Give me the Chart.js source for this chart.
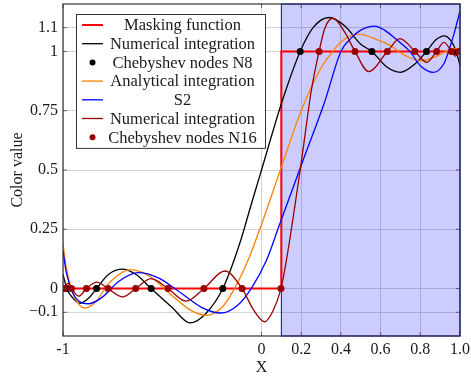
<!DOCTYPE html>
<html>
<head>
<meta charset="utf-8">
<script src="https://cdn.jsdelivr.net/npm/chart.js@4.4.1/dist/chart.umd.min.js"></script>
<style>
  html, body { margin: 0; padding: 0; background: #fff; }
</style>
</head>
<body>
<canvas id="myChart" width="471" height="378"></canvas>
<script>
// axis ticks
var xTicks = [-1, 0, 0.2, 0.4, 0.6, 0.8, 1];
var xTickLabels = ['-1', '0', '0.2', '0.4', '0.6', '0.8', '1.0'];
var yTicks = [-0.1, 0, 0.25, 0.5, 0.75, 1, 1.1];
var yTickLabels = ['\u22120.1', '0', '0.25', '0.5', '0.75', '1', '1.1'];

// step mask and the region it covers
var maskX = [-1, 0.1, 0.1, 1];
var maskY = [0, 0, 1, 1];
var maskRegion = [0.1, 1];

// numerical integration, 8 nodes
var n8X = [-1, -0.981, -0.95, -0.915, -0.87, -0.831, -0.77, -0.7, -0.63, -0.556, -0.45, -0.36, -0.28, -0.195, -0.111, -0.05, 0, 0.104, 0.195, 0.26, 0.34, 0.42, 0.5, 0.556, 0.63, 0.7, 0.77, 0.831, 0.88, 0.92, 0.955, 0.981, 1];
var n8Y = [0.06, 0, -0.04, -0.062, -0.04, 0, 0.06, 0.082, 0.058, 0, -0.08, -0.145, -0.105, 0, 0.187, 0.36, 0.5, 0.79, 1, 1.1, 1.143, 1.107, 1.03, 1, 0.935, 0.912, 0.945, 1, 1.05, 1.066, 1.045, 1, 0.94];
var n8NodeX = [-0.981, -0.831, -0.556, -0.195, 0.195, 0.556, 0.831, 0.981];
var n8NodeY = [0, 0, 0, 0, 1, 1, 1, 1];

// analytical integration
var anX = [-1, -0.984, -0.95, -0.917, -0.89, -0.84, -0.76, -0.66, -0.56, -0.45, -0.36, -0.28, -0.2, -0.136, -0.069, 0, 0.099, 0.2, 0.3, 0.35, 0.4, 0.49, 0.58, 0.66, 0.69, 0.73, 0.8, 0.87, 0.93, 1];
var anY = [0.19, 0.09, -0.02, -0.07, -0.082, -0.06, 0.03, 0.08, 0.05, -0.03, -0.09, -0.113, -0.08, 0, 0.117, 0.27, 0.51, 0.75, 0.93, 0.99, 1.04, 1.073, 1.05, 1.02, 1.0, 0.98, 0.961, 0.975, 1.0, 1.015];

// S2
var s2X = [-1, -0.984, -0.95, -0.917, -0.87, -0.8, -0.72, -0.62, -0.52, -0.42, -0.3, -0.205, -0.12, -0.052, 0.024, 0.091, 0.209, 0.318, 0.4, 0.45, 0.5, 0.57, 0.62, 0.68, 0.747, 0.8, 0.866, 0.92, 0.95, 0.975, 1];
var s2Y = [0.16, 0.07, -0.02, -0.055, -0.064, -0.035, 0.03, 0.067, 0.045, -0.01, -0.08, -0.103, -0.07, 0, 0.117, 0.27, 0.54, 0.787, 1.0, 1.055, 1.09, 1.107, 1.09, 1.05, 1.0, 0.94, 0.912, 0.95, 1.02, 1.09, 1.17];

// numerical integration, 16 nodes
var n16X = [-1, -0.995, -0.975, -0.957, -0.92, -0.882, -0.83, -0.773, -0.7, -0.634, -0.557, -0.471, -0.38, -0.29, -0.185, -0.098, -0.04, 0.015, 0.06, 0.098, 0.125, 0.2, 0.25, 0.29, 0.32, 0.36, 0.42, 0.471, 0.54, 0.634, 0.697, 0.773, 0.832, 0.882, 0.919, 0.957, 0.977, 0.995, 1];
var n16Y = [-0.01, 0, 0.022, 0, -0.032, 0, 0.027, 0, -0.035, 0, 0.042, 0, -0.053, 0, 0.074, 0, -0.09, -0.14, -0.09, 0, 0.117, 0.53, 0.83, 1, 1.1, 1.14, 1.08, 1, 0.915, 1, 1.054, 1, 0.954, 1, 1.038, 1, 0.98, 1, 1.01];
var n16NodeX = [-0.995, -0.957, -0.882, -0.773, -0.634, -0.471, -0.29, -0.098, 0.098, 0.29, 0.471, 0.634, 0.773, 0.882, 0.957, 0.995];
var n16NodeY = [0, 0, 0, 0, 0, 0, 0, 0, 0, 1, 1, 1, 1, 1, 1, 1];

var serif = "'Liberation Serif', 'DejaVu Serif', serif";
var textColor = '#1a1a1a';

function pts(xs, ys) {
  return xs.map(function (x, i) { return { x: x, y: ys[i] }; });
}

function curve(label, xs, ys, color, order) {
  return {
    label: label, data: pts(xs, ys), showLine: true,
    borderColor: color, backgroundColor: color, borderWidth: 1.3,
    pointRadius: 0, cubicInterpolationMode: 'monotone', order: order
  };
}

function nodes(label, xs, ys, color, order) {
  return {
    label: label, data: pts(xs, ys), showLine: false,
    borderColor: color, backgroundColor: color,
    pointRadius: 3.5, pointBorderWidth: 0, order: order
  };
}

// blue box behind the curves where the mask is 1
var maskShade = {
  id: 'maskShade',
  beforeDatasetsDraw: function (chart) {
    var ctx = chart.ctx, a = chart.chartArea;
    var x0 = chart.scales.x.getPixelForValue(maskRegion[0]);
    var x1 = chart.scales.x.getPixelForValue(maskRegion[1]);
    ctx.save();
    ctx.fillStyle = 'rgba(0,0,255,0.2)';
    ctx.fillRect(x0, a.top, x1 - x0, a.bottom - a.top);
    ctx.strokeStyle = '#0000ff';
    ctx.lineWidth = 1;
    ctx.strokeRect(x0, a.top, x1 - x0, a.bottom - a.top);
    ctx.restore();
  }
};

// closed frame with small inward ticks
var frame = {
  id: 'frame',
  afterDatasetsDraw: function (chart) {
    var ctx = chart.ctx, a = chart.chartArea;
    var sx = chart.scales.x, sy = chart.scales.y;
    ctx.save();
    ctx.strokeStyle = '#444';
    ctx.lineWidth = 0.8;
    ctx.beginPath();
    xTicks.forEach(function (v) {
      var p = sx.getPixelForValue(v);
      ctx.moveTo(p, a.bottom); ctx.lineTo(p, a.bottom - 4);
      ctx.moveTo(p, a.top); ctx.lineTo(p, a.top + 4);
    });
    yTicks.forEach(function (v) {
      var p = sy.getPixelForValue(v);
      ctx.moveTo(a.left, p); ctx.lineTo(a.left + 4, p);
      ctx.moveTo(a.right, p); ctx.lineTo(a.right - 4, p);
    });
    ctx.stroke();
    ctx.lineWidth = 1.2;
    ctx.strokeStyle = '#333';
    ctx.strokeRect(a.left, a.top, a.right - a.left, a.bottom - a.top);
    ctx.restore();
  }
};

// framed legend in the upper left, labels centred in their column
var boxLegend = {
  id: 'boxLegend',
  afterDraw: function (chart) {
    var ctx = chart.ctx, a = chart.chartArea;
    var list = chart.data.datasets;
    var left = a.left + 13, top = a.top + 10, w = 189, rowH = 18.7;
    var h = rowH * list.length + 3;
    ctx.save();
    ctx.fillStyle = '#fff';
    ctx.fillRect(left, top, w, h);
    ctx.strokeStyle = '#333';
    ctx.lineWidth = 1;
    ctx.strokeRect(left + 0.5, top + 0.5, w, h);
    ctx.font = '16.5px ' + serif;
    ctx.textAlign = 'center';
    ctx.textBaseline = 'middle';
    list.forEach(function (ds, i) {
      var cy = top + 11 + i * rowH;
      if (ds.showLine) {
        ctx.strokeStyle = ds.borderColor;
        ctx.lineWidth = ds.borderWidth;
        ctx.beginPath();
        ctx.moveTo(left + 6, cy);
        ctx.lineTo(left + 27, cy);
        ctx.stroke();
      } else {
        ctx.fillStyle = ds.backgroundColor;
        ctx.beginPath();
        ctx.arc(left + 16.5, cy, 3, 0, Math.PI * 2);
        ctx.fill();
      }
      ctx.fillStyle = textColor;
      ctx.fillText(ds.label, left + 106.5, cy + 1);
    });
    ctx.restore();
  }
};

var mask = curve('Masking function', maskX, maskY, '#ff0000', 7);
mask.borderWidth = 2;
mask.cubicInterpolationMode = 'default';
mask.tension = 0;

var ctx = document.getElementById('myChart');
var myChart = new Chart(ctx, {
  type: 'scatter',
  data: {
    datasets: [
      mask,
      curve('Numerical integration', n8X, n8Y, '#000000', 6),
      nodes('Chebyshev nodes N8', n8NodeX, n8NodeY, '#000000', 5),
      curve('Analytical integration', anX, anY, '#ff8000', 4),
      curve('S2', s2X, s2Y, '#0000ff', 3),
      curve('Numerical integration', n16X, n16Y, '#990000', 2),
      nodes('Chebyshev nodes N16', n16NodeX, n16NodeY, '#990000', 1)
    ]
  },
  options: {
    responsive: false,
    animation: false,
    layout: { padding: { top: 3, right: 11, left: 0, bottom: 0 } },
    plugins: {
      legend: { display: false },
      tooltip: { enabled: false }
    },
    scales: {
      x: {
        type: 'linear', min: -1, max: 1,
        afterBuildTicks: function (s) { s.ticks = xTicks.map(function (v) { return { value: v }; }); },
        afterFit: function (s) { s.height = 42; s.paddingLeft = 0; s.paddingRight = 0; },
        grid: { color: '#d4d4d4', drawTicks: false },
        border: { display: false },
        ticks: {
          padding: 4, color: textColor, autoSkip: false, maxRotation: 0,
          font: { family: serif, size: 16 },
          callback: function (v, i) { return xTickLabels[i]; }
        },
        title: {
          display: true, text: 'X', color: textColor,
          font: { family: serif, size: 16 }, padding: { top: 0, bottom: 1 }
        }
      },
      y: {
        type: 'linear', min: -0.2, max: 1.2,
        afterBuildTicks: function (s) { s.ticks = yTicks.map(function (v) { return { value: v }; }); },
        afterFit: function (s) { s.width = 63; s.paddingTop = 0; s.paddingBottom = 0; },
        grid: { color: '#d4d4d4', drawTicks: false },
        border: { display: false },
        ticks: {
          padding: 5, color: textColor, autoSkip: false,
          font: { family: serif, size: 16 },
          callback: function (v, i) { return yTickLabels[i]; }
        },
        title: {
          display: true, text: 'Color value', color: textColor,
          font: { family: serif, size: 16 }, padding: { top: 8, bottom: 0 }
        }
      }
    }
  },
  plugins: [maskShade, frame, boxLegend]
});
</script>
</body>
</html>
